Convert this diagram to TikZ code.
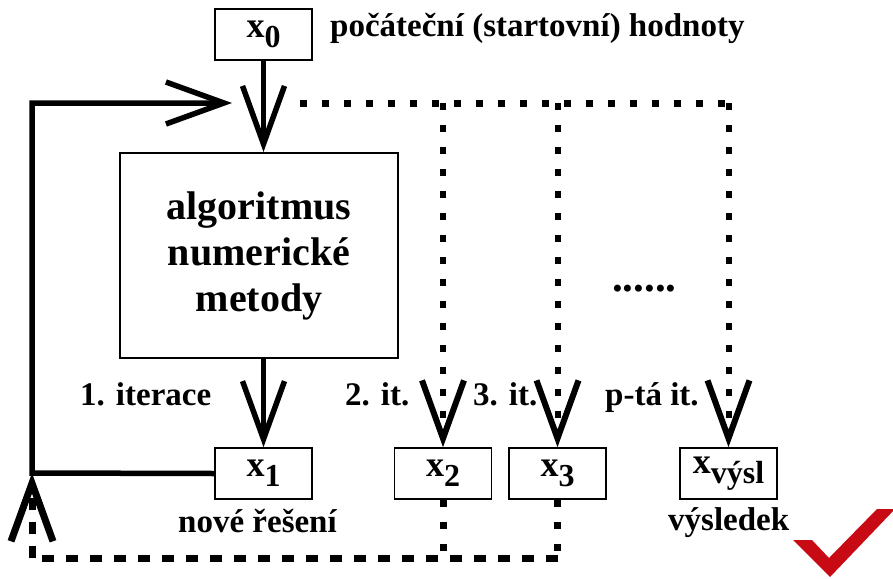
\documentclass[tikz,border=0pt]{standalone}
\usepackage{fontspec}
\setmainfont{Liberation Serif}
\usetikzlibrary{arrows.meta}
\definecolor{ckRed}{HTML}{C80A14}
\newcommand{\xval}[1]{{\fontsize{36}{36}\selectfont x}\raisebox{-10pt}{\fontsize{32}{32}\selectfont #1}}

\begin{document}
\begin{tikzpicture}[x=1pt,y=-1pt]
    \tikzstyle{valbox}=[draw, line width=1.6pt, minimum width=97pt, minimum height=51pt,
      inner sep=0pt, font=\bfseries]
    \tikzstyle{lbl}=[anchor=base west, inner sep=0pt, font=\fontsize{33}{33}\selectfont\bfseries]
    \tikzstyle{barb}=[-{Straight Barb[length=58pt,width=42pt]}]
    \tikzstyle{flow}=[line width=5.5pt, line join=miter, barb]
    \tikzstyle{dotline}=[line width=7pt, dash pattern=on 7pt off 15pt]
    \tikzstyle{dashline}=[line width=7pt, dash pattern=on 12pt off 12pt]

    \useasboundingbox (0,0) rectangle (893,578);

    \node[valbox] (x0) at (263.5,34.5) {\xval{0}};
    \node[draw, line width=2pt, minimum width=278pt, minimum height=205pt, align=center,
      font=\fontsize{40}{46}\selectfont\bfseries] (alg) at (259,255.5) {algoritmus\\numerické\\metody};
    \node[valbox] (x1) at (263.5,473.5) {\xval{1}};
    \node[valbox] (x2) at (443,473.5) {\xval{2}};
    \node[valbox] (x3) at (557.5,473.5) {\xval{3}};
    \node[valbox] (xv) at (728.5,473.5) {\xval{výsl}};

    \node[lbl] (start) at (330,37) {počáteční (startovní) hodnoty};
    \node[lbl] (it1) at (80,405) {1. iterace};
    \node[lbl] (it2) at (345,405) {2. it.};
    \node[lbl] (it3) at (473,405) {3. it.};
    \node[lbl] (itp) at (605,405) {p-tá it.};
    \node[lbl] (more) at (612,291) {\fontsize{43}{43}\selectfont ......};
    \node[lbl] (new) at (178,532) {nové řešení};
    \node[lbl] (res) at (668,530) {výsledek};

    \coordinate (lb) at (32,473);
    \coordinate (lt) at (32,103);
    \coordinate (in) at (232,103);
    \coordinate (ds) at (300,103);
    \coordinate (d2) at (443,103);
    \coordinate (d3) at (557.5,103);
    \coordinate (dv) at (728.5,103);
    \coordinate (b2) at (443,558);
    \coordinate (b3) at (557.5,558);
    \coordinate (bl) at (32,558);

    % main iteration
    \draw[flow] (x0.south) -- (x0.south |- alg.north);
    \draw[flow] (x1.north |- alg.south) -- (x1.north);
    \draw[flow] (x1.west) -- (lb) -- (lt) -- (in);

    % further iterations
    \draw[dotline] (ds) -- (dv);
    \draw[dotline, line width=6pt, barb] (d2) -- (x2.north);
    \draw[dotline, line width=6pt, barb] (d3) -- (x3.north);
    \draw[dotline, line width=6pt, barb] (dv) -- (xv.north);
    \draw[dotline] (x2.south) -- (b2);
    \draw[dotline] (x3.south) -- (b3);
    \draw[dashline] (b3) -- (bl);
    \draw[dashline, barb] (bl) -- (lb);

    \fill[ckRed] (793,540) -- (812,540) -- (829,558) -- (877,509) -- (895,509) -- (830,577) -- cycle;
\end{tikzpicture}
\end{document}
